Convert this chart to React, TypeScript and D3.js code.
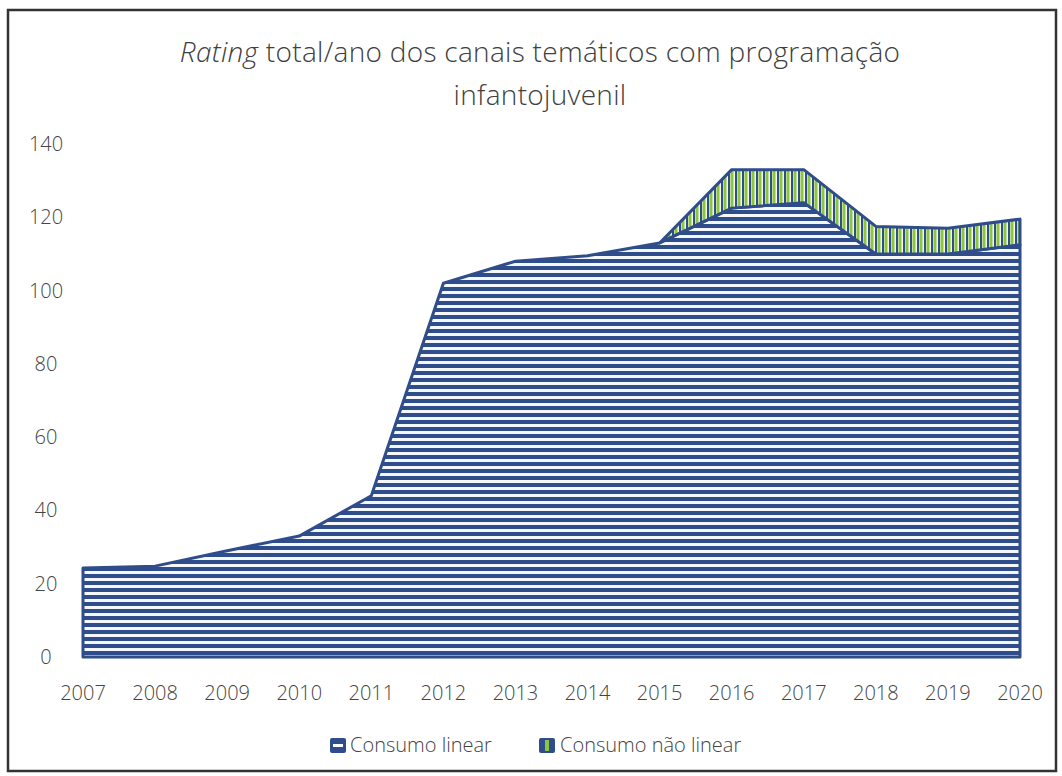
import React from 'react';
import * as d3 from 'd3';

const years = ['2007', '2008', '2009', '2010', '2011', '2012', '2013', '2014', '2015', '2016', '2017', '2018', '2019', '2020'];
const consumoLinear = [24.3, 24.8, 29, 33, 44, 102, 108, 109.5, 113, 122.5, 124, 110, 110, 112.5];
const consumoNaoLinear = [0, 0, 0, 0, 0, 0, 0, 0, 0, 10.5, 9, 7.5, 7, 7];
const yTicks = [0, 20, 40, 60, 80, 100, 120, 140];
const seriesNames = ['Consumo linear', 'Consumo não linear'];

const width = 1062;
const height = 776;
const font = '"Open Sans", "DejaVu Sans", sans-serif';
const blue = '#2f4d8a';
const green = '#8cc63f';

const App = () => {
  const x = d3.scalePoint<string>().domain(years).range([83, 1020]);
  const y = d3.scaleLinear().domain([0, 140]).range([657, 144]);

  const rows = years.map((yr, i) => ({ year: yr, linear: consumoLinear[i], naoLinear: consumoNaoLinear[i] }));
  const stacked = d3.stack<any>().keys(['linear', 'naoLinear'])(rows);

  const area = d3
    .area<any>()
    .x(d => x(d.data.year) as number)
    .y0(d => y(d[0]))
    .y1(d => y(d[1]));

  // green layer only where it exists (from 2015 on)
  const greenPts = stacked[1].filter((_, i) => i >= 8);

  return (
    <div style={{ position: 'fixed', left: 0, top: 0 }}>
      <svg width={width} height={height} style={{ display: 'block', background: '#fff' }}>
        <defs>
          <pattern id="hstripe" width="8" height="7" patternUnits="userSpaceOnUse">
            <rect width="8" height="7" fill="#f4f7fb" />
            <rect width="8" height="4" fill={blue} />
          </pattern>
          <pattern id="vstripe" width="7" height="8" patternUnits="userSpaceOnUse">
            <rect width="7" height="8" fill="#f7fbef" />
            <rect x="0" width="2" height="8" fill={blue} />
            <rect x="2.5" width="3" height="8" fill={green} />
          </pattern>
        </defs>

        <rect x={8} y={10} width={1048} height={761} fill="none" stroke="#333" strokeWidth={2.5} />

        <g fontFamily={font} fontWeight={300} fontSize={28} fill="#404040" textAnchor="middle" letterSpacing={0.3}>
          <text x={540} y={62}>
            <tspan fontStyle="italic">Rating</tspan> total/ano dos canais temáticos com programação
          </text>
          <text x={540} y={105}>infantojuvenil</text>
        </g>

        <path d={area(stacked[0]) || ''} fill="url(#hstripe)" stroke={blue} strokeWidth={3} strokeLinejoin="round" />
        <path d={area(greenPts) || ''} fill="url(#vstripe)" stroke={blue} strokeWidth={3} strokeLinejoin="round" />

        <g fontFamily={font} fontWeight={300} fontSize={20} fill="#444" textAnchor="middle">
          {yTicks.map(t => (
            <text key={t} x={46} y={y(t)} dy="0.35em">
              {t}
            </text>
          ))}
          {years.map(yr => (
            <text key={yr} x={x(yr)} y={700}>
              {yr}
            </text>
          ))}
        </g>

        <g fontFamily={font} fontWeight={300} fontSize={20} fill="#444">
          <rect x={330} y={738} width={16} height={15} rx={2} fill={blue} />
          <rect x={333} y={744} width={10} height={3} fill="#fff" />
          <text x={350} y={752}>{seriesNames[0]}</text>
          <rect x={539} y={738} width={16} height={15} rx={2} fill={blue} />
          <rect x={545} y={740} width={4} height={11} fill={green} />
          <text x={560} y={752}>{seriesNames[1]}</text>
        </g>
      </svg>
    </div>
  );
};

export default App;
